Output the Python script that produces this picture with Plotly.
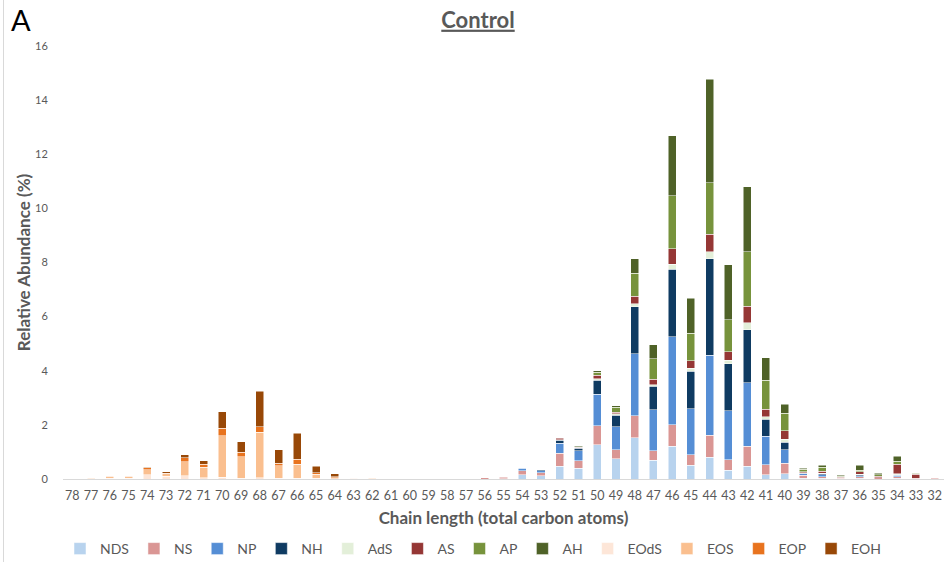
import plotly.graph_objects as go

categories = ["78", "77", "76", "75", "74", "73", "72", "71", "70", "69", "68", "67", "66", "65", "64", "63",
              "62", "61", "60", "59", "58", "57",
              "56", "55", "54", "53", "52", "51", "50", "49", "48", "47", "46", "45", "44", "43", "42", "41",
              "40", "39", "38", "37", "36", "35", "34", "33", "32"]

#        78-63                                                                     62-57
NDS  = [0, 0, 0, 0, 0, 0, 0, 0, 0, 0, 0, 0, 0, 0, 0, 0,                            0, 0, 0, 0, 0, 0,
        0, 0.01, 0.16, 0.12, 0.47, 0.39, 1.27, 0.74, 1.53, 0.69, 1.21, 0.50, 0.80, 0.32, 0.47, 0.16,
        0.20, 0.03, 0.02, 0, 0.02, 0, 0.02, 0, 0]
NS   = [0, 0, 0, 0, 0, 0, 0, 0, 0, 0, 0, 0, 0, 0, 0, 0,                            0, 0, 0, 0, 0, 0,
        0.05, 0.05, 0.15, 0.12, 0.49, 0.28, 0.70, 0.34, 0.81, 0.36, 0.80, 0.39, 0.81, 0.39, 0.74, 0.36,
        0.39, 0.10, 0.07, 0.03, 0.06, 0.04, 0.06, 0.03, 0.03]
NP   = [0, 0, 0, 0, 0, 0, 0, 0, 0, 0, 0, 0, 0, 0, 0, 0,                            0, 0, 0, 0, 0, 0,
        0, 0, 0.08, 0.07, 0.37, 0.37, 1.16, 0.85, 2.28, 1.51, 3.24, 1.70, 2.96, 1.81, 2.34, 1.06,
        0.49, 0.07, 0.06, 0, 0.04, 0, 0.05, 0, 0]
NH   = [0, 0, 0, 0, 0, 0, 0, 0, 0, 0, 0, 0, 0, 0, 0, 0,                            0, 0, 0, 0, 0, 0,
        0, 0, 0.02, 0.03, 0.10, 0.09, 0.52, 0.43, 1.74, 0.86, 2.51, 1.39, 3.56, 1.74, 1.97, 0.62,
        0.27, 0.02, 0.05, 0, 0.03, 0, 0.02, 0, 0]
AdS  = [0, 0, 0, 0, 0, 0, 0, 0, 0, 0, 0, 0, 0, 0, 0, 0,                            0, 0, 0, 0, 0, 0,
        0, 0, 0, 0, 0.02, 0.02, 0.06, 0.05, 0.11, 0.07, 0.18, 0.11, 0.26, 0.12, 0.25, 0.10,
        0.12, 0.02, 0.02, 0, 0.02, 0, 0.04, 0, 0]
AS   = [0, 0, 0, 0, 0, 0, 0, 0, 0, 0, 0, 0, 0, 0, 0, 0,                            0, 0, 0, 0, 0, 0,
        0, 0, 0, 0, 0.05, 0.02, 0.12, 0.06, 0.28, 0.20, 0.57, 0.28, 0.65, 0.33, 0.62, 0.27,
        0.32, 0.02, 0.07, 0.04, 0.10, 0.06, 0.36, 0.14, 0]
AP   = [0, 0, 0, 0, 0, 0, 0, 0, 0, 0, 0, 0, 0, 0, 0, 0,                            0, 0, 0, 0, 0, 0,
        0, 0, 0, 0, 0, 0.03, 0.12, 0.18, 0.86, 0.75, 1.96, 1.02, 1.90, 1.17, 2.00, 1.07,
        0.64, 0.10, 0.15, 0.03, 0.06, 0.06, 0.10, 0.04, 0]
AH   = [0, 0, 0, 0, 0, 0, 0, 0, 0, 0, 0, 0, 0, 0, 0, 0,                            0, 0, 0, 0, 0, 0,
        0, 0, 0, 0, 0, 0.02, 0.05, 0.05, 0.53, 0.53, 2.22, 1.28, 3.84, 2.03, 2.41, 0.84,
        0.33, 0.04, 0.07, 0.04, 0.17, 0.06, 0.20, 0.02, 0]
EOdS = [0, 0.01, 0.02, 0.02, 0.16, 0.10, 0.12, 0.05, 0.06, 0.02, 0.05, 0.02, 0.02, 0.02, 0.01, 0.02,
        0.01, 0, 0, 0, 0, 0,
        0, 0, 0, 0, 0, 0, 0, 0, 0, 0, 0, 0, 0, 0, 0, 0, 0, 0, 0, 0, 0, 0, 0, 0, 0]
EOS  = [0, 0.01, 0.06, 0.06, 0.18, 0.09, 0.52, 0.39, 1.54, 0.81, 1.67, 0.47, 0.53, 0.15, 0.04, 0.03,
        0.01, 0, 0, 0, 0, 0,
        0, 0, 0, 0, 0, 0, 0, 0, 0, 0, 0, 0, 0, 0, 0, 0, 0, 0, 0, 0, 0, 0, 0, 0, 0]
EOP  = [0, 0, 0.03, 0.03, 0.07, 0.03, 0.15, 0.10, 0.27, 0.15, 0.21, 0.10, 0.18, 0.06, 0.03, 0,
        0, 0, 0, 0, 0, 0,
        0, 0, 0, 0, 0, 0, 0, 0, 0, 0, 0, 0, 0, 0, 0, 0, 0, 0, 0, 0, 0, 0, 0, 0, 0]
EOH  = [0, 0, 0.01, 0.01, 0.03, 0.05, 0.11, 0.14, 0.62, 0.39, 1.31, 0.49, 0.96, 0.25, 0.11, 0,
        0, 0, 0, 0, 0, 0,
        0, 0, 0, 0, 0, 0, 0, 0, 0, 0, 0, 0, 0, 0, 0, 0, 0, 0, 0, 0, 0, 0, 0, 0, 0]

series_names = ["NDS", "NS", "NP", "NH", "AdS", "AS", "AP", "AH", "EOdS", "EOS", "EOP", "EOH"]
series_values = [NDS, NS, NP, NH, AdS, AS, AP, AH, EOdS, EOS, EOP, EOH]
series_colors = ["#B8D3EE", "#DA9694", "#558ED5", "#0F3B62", "#E3EFD9", "#953735",
                 "#77933C", "#4F6228", "#FDE6D8", "#FABF8F", "#E8731E", "#984807"]

FONT = "Lato, 'Liberation Sans', sans-serif"
GREY = "#595959"

fig = go.Figure()
for name, vals, col in zip(series_names, series_values, series_colors):
    fig.add_trace(go.Bar(
        name=name, x=categories, y=[v if v else None for v in vals],
        marker=dict(color=col, line=dict(color="white", width=0.5)),
    ))

fig.update_layout(
    width=946, height=562,
    barmode="stack", bargap=0.57,
    plot_bgcolor="white", paper_bgcolor="white",
    margin=dict(l=63, r=2, t=46, b=83),
    font=dict(family=FONT, color=GREY),
    title=dict(text="<b><u>Control</u></b>", x=478 / 946, xref="container", xanchor="center",
               y=1 - 20 / 562, yref="container", yanchor="middle",
               font=dict(size=22, color=GREY, family=FONT)),
    xaxis=dict(type="category", categoryorder="array", categoryarray=categories,
               showline=True, linecolor="#D9D9D9", linewidth=1,
               ticks="outside", ticklen=5, tickcolor="rgba(0,0,0,0)",
               tickfont=dict(size=12.5, color=GREY), tickangle=0,
               showgrid=False, zeroline=False,
               title=dict(text="<b>Chain length (total carbon atoms)</b>", standoff=10,
                          font=dict(size=17, color=GREY))),
    yaxis=dict(range=[0, 16], dtick=2, showgrid=False, zeroline=False, showline=False,
               ticks="outside", ticklen=12, tickcolor="rgba(0,0,0,0)",
               tickfont=dict(size=11, color=GREY),
               title=dict(text="<b>Relative Abundance (%)</b>", standoff=0,
                          font=dict(size=17, color=GREY))),
    legend=dict(orientation="h", xref="container", yref="container", x=0.5, xanchor="center",
                y=1 - 549 / 562, yanchor="middle", traceorder="normal", itemwidth=30,
                font=dict(size=14, color=GREY), bgcolor="rgba(0,0,0,0)"),
    showlegend=True,
)

fig.add_annotation(text="A", xref="paper", yref="paper", x=(21 - 63) / 881, y=(479 - 19) / 433,
                   showarrow=False, xanchor="center", yanchor="middle",
                   font=dict(size=29, color="black", family=FONT))
fig.add_shape(type="line", xref="paper", yref="paper",
              x0=(3.5 - 63) / 881, x1=(3.5 - 63) / 881, y0=(479 - 562) / 433, y1=479 / 433,
              line=dict(color="#D9D9D9", width=1))

fig.write_html("out.html")
